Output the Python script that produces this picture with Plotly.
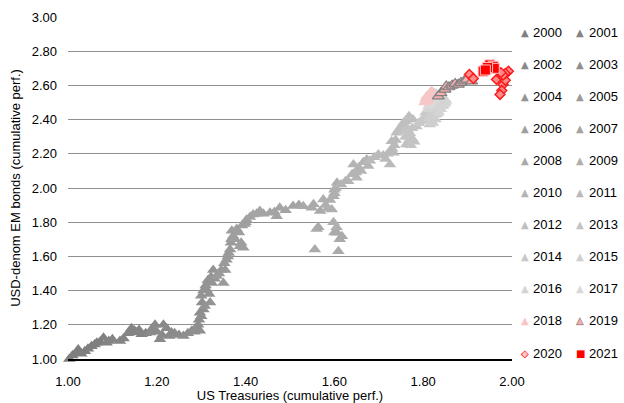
import plotly.graph_objects as go

# ---- data: cumulative performance, US Treasuries (x) vs USD-denom EM bonds (y)
years = list(range(2000, 2022))

ust_2000 = [1.003, 1.010, 1.018, 1.023, 1.030, 1.038, 1.045, 1.053, 1.060, 1.065, 1.072, 1.080]
em_2000 = [1.000, 1.020, 1.035, 1.055, 1.030, 1.045, 1.060, 1.075, 1.085, 1.095, 1.100, 1.125]
ust_2001 = [1.087, 1.092, 1.100, 1.117, 1.125, 1.135, 1.143, 1.150, 1.154, 1.160, 1.166, 1.175]
em_2001 = [1.095, 1.105, 1.115, 1.105, 1.120, 1.150, 1.180, 1.165, 1.155, 1.170, 1.145, 1.150]
ust_2002 = [1.185, 1.190, 1.196, 1.200, 1.207, 1.212, 1.215, 1.222, 1.228, 1.233, 1.240, 1.250]
em_2002 = [1.155, 1.180, 1.200, 1.160, 1.115, 1.140, 1.200, 1.180, 1.135, 1.155, 1.150, 1.140]
ust_2003 = [1.260, 1.270, 1.279, 1.285, 1.290, 1.297, 1.293, 1.295, 1.300, 1.297, 1.305, 1.302]
em_2003 = [1.135, 1.150, 1.165, 1.160, 1.175, 1.165, 1.200, 1.230, 1.250, 1.270, 1.290, 1.330]
ust_2004 = [1.308, 1.300, 1.305, 1.312, 1.310, 1.320, 1.318, 1.324, 1.315, 1.322, 1.327, 1.330]
em_2004 = [1.310, 1.370, 1.400, 1.405, 1.430, 1.330, 1.380, 1.445, 1.460, 1.480, 1.520, 1.470]
ust_2005 = [1.335, 1.340, 1.350, 1.345, 1.354, 1.357, 1.352, 1.360, 1.362, 1.365, 1.367, 1.368]
em_2005 = [1.485, 1.500, 1.445, 1.520, 1.520, 1.580, 1.560, 1.600, 1.620, 1.640, 1.680, 1.700]
ust_2006 = [1.369, 1.372, 1.380, 1.376, 1.387, 1.390, 1.395, 1.385, 1.392, 1.398, 1.402, 1.400]
em_2006 = [1.750, 1.720, 1.760, 1.700, 1.660, 1.680, 1.650, 1.740, 1.780, 1.790, 1.815, 1.800]
ust_2007 = [1.410, 1.417, 1.425, 1.432, 1.440, 1.455, 1.465, 1.470, 1.477, 1.490, 1.507, 1.520]
em_2007 = [1.830, 1.845, 1.850, 1.865, 1.850, 1.855, 1.860, 1.835, 1.885, 1.870, 1.895, 1.900]
ust_2008 = [1.530, 1.549, 1.553, 1.568, 1.564, 1.556, 1.560, 1.609, 1.606, 1.617, 1.612, 1.600]
em_2008 = [1.894, 1.884, 1.905, 1.865, 1.770, 1.640, 1.760, 1.630, 1.738, 1.718, 1.700, 1.740]
ust_2009 = [1.605, 1.598, 1.594, 1.585, 1.580, 1.575, 1.590, 1.598, 1.600, 1.603, 1.606, 1.600]
em_2009 = [1.770, 1.800, 1.874, 1.880, 1.900, 1.933, 1.930, 1.952, 1.970, 2.000, 2.030, 1.990]
ust_2010 = [1.615, 1.625, 1.631, 1.643, 1.650, 1.660, 1.673, 1.676, 1.665, 1.655, 1.640, 1.648]
em_2010 = [2.020, 2.040, 2.040, 2.137, 2.060, 2.100, 2.167, 2.128, 2.150, 2.120, 2.080, 2.090]
ust_2011 = [1.680, 1.690, 1.699, 1.710, 1.725, 1.733, 1.729, 1.720, 1.715, 1.730, 1.735, 1.738]
em_2011 = [2.160, 2.180, 2.196, 2.190, 2.137, 2.206, 2.274, 2.200, 2.170, 2.230, 2.250, 2.280]
ust_2012 = [1.740, 1.745, 1.750, 1.755, 1.760, 1.758, 1.765, 1.770, 1.768, 1.772, 1.777, 1.762]
em_2012 = [2.323, 2.340, 2.360, 2.380, 2.390, 2.370, 2.400, 2.410, 2.420, 2.405, 2.400, 2.254]
ust_2013 = [1.763, 1.770, 1.775, 1.780, 1.772, 1.768, 1.760, 1.757, 1.765, 1.775, 1.785, 1.790]
em_2013 = [2.300, 2.320, 2.290, 2.270, 2.250, 2.280, 2.300, 2.330, 2.340, 2.350, 2.360, 2.380]
ust_2014 = [1.790, 1.795, 1.800, 1.803, 1.808, 1.812, 1.815, 1.818, 1.820, 1.812, 1.805, 1.800]
em_2014 = [2.380, 2.390, 2.400, 2.410, 2.420, 2.430, 2.371, 2.390, 2.410, 2.430, 2.440, 2.400]
ust_2015 = [1.815, 1.820, 1.825, 1.830, 1.828, 1.822, 1.818, 1.815, 1.820, 1.825, 1.830, 1.833]
em_2015 = [2.420, 2.440, 2.430, 2.430, 2.400, 2.380, 2.390, 2.410, 2.420, 2.430, 2.440, 2.450]
ust_2016 = [1.835, 1.840, 1.845, 1.848, 1.850, 1.852, 1.845, 1.838, 1.830, 1.820, 1.815, 1.810]
em_2016 = [2.440, 2.460, 2.478, 2.490, 2.500, 2.510, 2.500, 2.490, 2.480, 2.478, 2.470, 2.460]
ust_2017 = [1.812, 1.815, 1.818, 1.820, 1.825, 1.830, 1.832, 1.835, 1.833, 1.830, 1.828, 1.826]
em_2017 = [2.480, 2.490, 2.500, 2.510, 2.520, 2.530, 2.540, 2.545, 2.540, 2.550, 2.545, 2.555]
ust_2018 = [1.820, 1.815, 1.808, 1.805, 1.803, 1.806, 1.810, 1.812, 1.808, 1.814, 1.819, 1.822]
em_2018 = [2.565, 2.555, 2.537, 2.520, 2.500, 2.510, 2.520, 2.515, 2.505, 2.530, 2.566, 2.540]
ust_2019 = [1.834, 1.840, 1.849, 1.852, 1.858, 1.865, 1.872, 1.879, 1.885, 1.892, 1.898, 1.909]
em_2019 = [2.537, 2.555, 2.576, 2.595, 2.590, 2.600, 2.610, 2.605, 2.615, 2.625, 2.634, 2.624]
ust_2020 = [1.904, 1.913, 1.965, 1.977, 1.980, 1.977, 1.973, 1.985, 1.992, 1.985, 1.980, 1.975]
em_2020 = [2.664, 2.640, 2.635, 2.655, 2.605, 2.570, 2.547, 2.630, 2.683, 2.670, 2.660, 2.675]
ust_2021 = [1.935, 1.950, 1.958, 1.960, 1.945, 1.940]
em_2021 = [2.683, 2.720, 2.712, 2.700, 2.705, 2.690]

ust_by_year = [ust_2000, ust_2001, ust_2002, ust_2003, ust_2004, ust_2005, ust_2006, ust_2007,
               ust_2008, ust_2009, ust_2010, ust_2011, ust_2012, ust_2013, ust_2014, ust_2015,
               ust_2016, ust_2017, ust_2018, ust_2019, ust_2020, ust_2021]
em_by_year = [em_2000, em_2001, em_2002, em_2003, em_2004, em_2005, em_2006, em_2007,
              em_2008, em_2009, em_2010, em_2011, em_2012, em_2013, em_2014, em_2015,
              em_2016, em_2017, em_2018, em_2019, em_2020, em_2021]

y_ticks = [1.0, 1.2, 1.4, 1.6, 1.8, 2.0, 2.2, 2.4, 2.6, 2.8, 3.0]
x_ticks = [1.0, 1.2, 1.4, 1.6, 1.8, 2.0]

# ---- styles
grays = ["#7f7f7f", "#848484", "#8a8a8a", "#8f8f8f", "#949494", "#9a9a9a", "#9f9f9f",
         "#a4a4a4", "#aaaaaa", "#afafaf", "#b4b4b4", "#bababa", "#bfbfbf", "#c4c4c4",
         "#c9c9c9", "#cfcfcf", "#d4d4d4", "#d9d9d9"]
PINK_LIGHT = "#f7c6c6"
PINK = "#f7afaf"
RED = "#ff0000"

FONT = "Liberation Sans, Arial, sans-serif"
W, H = 624, 403
ML, MR, MT, MB = 68, 112, 17, 44
PW, PH = W - ML - MR, H - MT - MB

fig = go.Figure()
legend_glyphs = []  # glyph layers per year: list of (char, color)
for i, yr in enumerate(years):
    if yr <= 2017:
        marker = dict(symbol="triangle-up", size=11, color=grays[i], line=dict(width=0))
        glyphs = [("\u25B2", grays[i])]
    elif yr == 2018:
        marker = dict(symbol="triangle-up", size=11, color=PINK_LIGHT, line=dict(width=0))
        glyphs = [("\u25B2", PINK_LIGHT)]
    elif yr == 2019:
        marker = dict(symbol="triangle-up", size=10.5, color=PINK,
                      line=dict(width=1.2, color="#808080"))
        glyphs = [("\u25B2", PINK), ("\u25B3", "#7a7a7a")]
    elif yr == 2020:
        marker = dict(symbol="diamond", size=7.5, color="#ff8a8a",
                      line=dict(width=1.5, color="#ff1a1a"))
        glyphs = [("\u25C6", "#ffc4c4"), ("\u25C7", RED)]
    else:
        marker = dict(symbol="square", size=10, color=RED,
                      line=dict(width=1, color="#ffc4c4"))
        glyphs = [("\u25A0", RED)]
    legend_glyphs.append(glyphs)
    fig.add_trace(go.Scatter(
        x=ust_by_year[i], y=em_by_year[i], mode="markers", name=str(yr),
        marker=marker, cliponaxis=False, showlegend=False,
    ))

# ---- two-column legend drawn as text (symbol glyph + year label)
row_y0, row_step = 32, 32.1
sym_x = [525, 580]
txt_x = [531, 587]
annotations = []
for i, yr in enumerate(years):
    row, col = divmod(i, 2)
    py = row_y0 + row * row_step
    yp = (H - MB - py) / PH
    for ch, colr in legend_glyphs[i]:
        annotations.append(dict(
            xref="paper", yref="paper", x=(sym_x[col] - ML) / PW, y=yp,
            text=ch, showarrow=False, xanchor="center", yanchor="middle",
            font=dict(family="DejaVu Sans", size=10, color=colr),
        ))
    annotations.append(dict(
        xref="paper", yref="paper", x=(txt_x[col] - ML) / PW, y=yp,
        text=str(yr), showarrow=False, xanchor="left", yanchor="middle",
        font=dict(family=FONT, size=13, color="#000000"),
    ))

fig.update_layout(
    width=W, height=H,
    margin=dict(l=ML, r=MR, t=MT, b=MB, autoexpand=False),
    paper_bgcolor="white", plot_bgcolor="white",
    font=dict(family=FONT, size=13, color="#000000"),
    showlegend=False,
    annotations=annotations,
    xaxis=dict(
        range=[1.0, 2.0], tickvals=x_ticks, tickformat=".2f",
        showgrid=False, zeroline=False,
        showline=True, linecolor="#000000", linewidth=1.5,
        ticks="", ticklabelstandoff=10,
        title=dict(text="US Treasuries (cumulative perf.)", standoff=2,
                   font=dict(family=FONT, size=13)),
        tickfont=dict(family=FONT, size=13),
    ),
    yaxis=dict(
        range=[1.0, 3.0], tickvals=y_ticks, tickformat=".2f",
        showgrid=True, gridcolor="#909090", gridwidth=1.3,
        zeroline=False, showline=False,
        ticks="", ticklabelstandoff=10,
        title=dict(text="USD-denom EM bonds (cumulative perf.)", standoff=8,
                   font=dict(family=FONT, size=13)),
        tickfont=dict(family=FONT, size=13),
    ),
)

fig.write_html(
    "out.html",
    config={"displayModeBar": False},
    post_script="document.body.style.margin='0px';document.body.style.overflow='hidden';",
)
